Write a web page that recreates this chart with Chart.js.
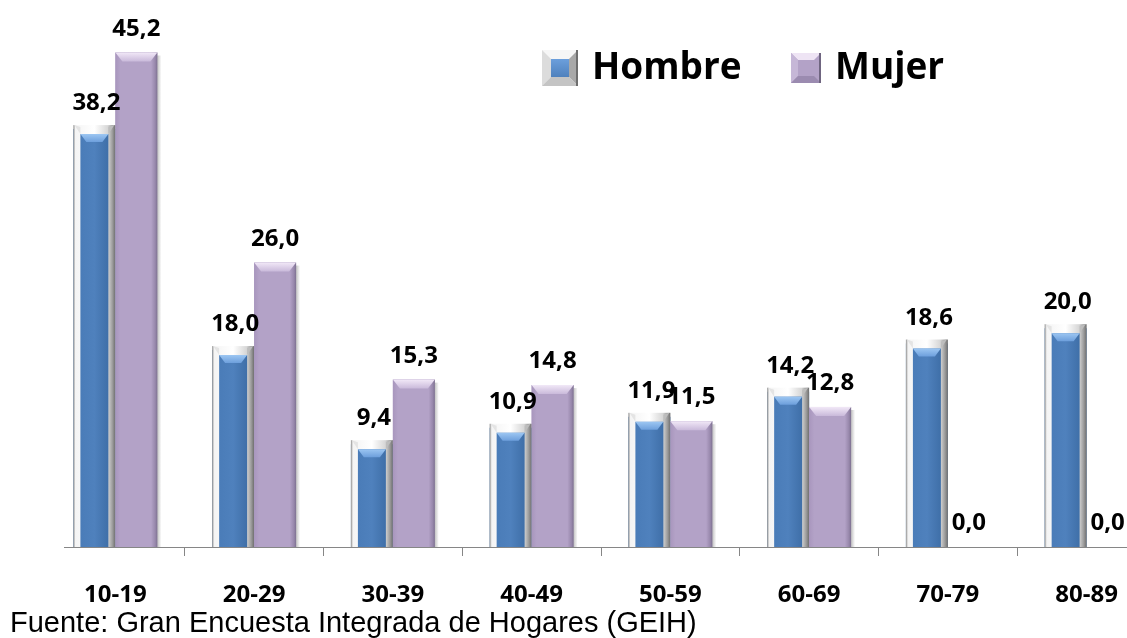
<!DOCTYPE html>
<html>
<head>
<meta charset="utf-8">
<script src="https://cdn.jsdelivr.net/npm/chart.js@4.4.1/dist/chart.umd.min.js"></script>
<style>
html, body { margin: 0; padding: 0; background: #fff; overflow: hidden; }
#wrap { position: relative; width: 1160px; height: 638px; }
</style>
</head>
<body>
<div id="wrap"><canvas id="grafico"></canvas></div>
<script>
var edades = ['10-19', '20-29', '30-39', '40-49', '50-59', '60-69', '70-79', '80-89'];
var hombre = [38.2, 18.0, 9.4, 10.9, 11.9, 14.2, 18.6, 20.0];
var mujer = [45.2, 26.0, 15.3, 14.8, 11.5, 12.8, 0.0, 0.0];
var series = ['Hombre', 'Mujer'];
var fuente = 'Fuente: Gran Encuesta Integrada de Hogares (GEIH)';

var AZUL = '#4F81BD';
var LILA = '#B3A2C7';
var EJE = '#868686';

// marco gris claro con cuadro azul dentro (Hombre)
function pintarHombre(ctx, l, t, r, b) {
    var g = ctx.createLinearGradient(l, 0, r, 0);
    g.addColorStop(0, '#8e8e8e');
    g.addColorStop(0.05, '#f4f4f4');
    g.addColorStop(0.5, '#ffffff');
    g.addColorStop(0.82, '#d6d6d6');
    g.addColorStop(0.93, '#9c9c9c');
    g.addColorStop(1, '#6e6e6e');
    ctx.fillStyle = g;
    ctx.fillRect(l, t, r - l, b - t);
    var il = l + 7, ir = r - 7, it = t + 9;
    ctx.fillStyle = '#e4e4e4';
    ctx.beginPath(); ctx.moveTo(l + 1, t); ctx.lineTo(il, it); ctx.lineTo(il, t + 2); ctx.closePath(); ctx.fill();
    ctx.fillStyle = '#bdbdbd';
    ctx.beginPath(); ctx.moveTo(r - 1, t); ctx.lineTo(ir, it); ctx.lineTo(ir, t + 2); ctx.closePath(); ctx.fill();
    var gi = ctx.createLinearGradient(il, 0, ir, 0);
    gi.addColorStop(0, '#4a7cb8');
    gi.addColorStop(0.5, AZUL);
    gi.addColorStop(1, '#3f6fa8');
    ctx.fillStyle = gi;
    ctx.fillRect(il, it, ir - il, b - it);
    var gt = ctx.createLinearGradient(0, it, 0, it + 8);
    gt.addColorStop(0, '#9cc6f2');
    gt.addColorStop(1, '#6d9fdc');
    ctx.fillStyle = gt;
    ctx.beginPath();
    ctx.moveTo(il, it); ctx.lineTo(ir, it); ctx.lineTo(ir - 6, it + 8); ctx.lineTo(il + 6, it + 8);
    ctx.closePath(); ctx.fill();
}

// barra lila con bisel (Mujer)
function pintarMujer(ctx, l, t, r, b) {
    var g = ctx.createLinearGradient(l, 0, r, 0);
    g.addColorStop(0, '#a896bd');
    g.addColorStop(0.12, LILA);
    g.addColorStop(0.85, LILA);
    g.addColorStop(0.95, '#9787ab');
    g.addColorStop(1, '#7d7190');
    ctx.fillStyle = g;
    ctx.fillRect(l, t, r - l, b - t);
    var h = Math.min(9, (b - t) / 2);
    var gt = ctx.createLinearGradient(0, t, 0, t + h);
    gt.addColorStop(0, '#f1e8f7');
    gt.addColorStop(1, '#c9b9da');
    ctx.fillStyle = gt;
    ctx.beginPath();
    ctx.moveTo(l, t); ctx.lineTo(r, t); ctx.lineTo(r - 7, t + h); ctx.lineTo(l + 7, t + h);
    ctx.closePath(); ctx.fill();
    var gs = ctx.createLinearGradient(r, 0, r + 4, 0);
    gs.addColorStop(0, 'rgba(120,120,120,0.45)');
    gs.addColorStop(1, 'rgba(120,120,120,0)');
    ctx.fillStyle = gs;
    ctx.fillRect(r, t + 3, 4, b - t - 3);
}

// cuadros de la leyenda, bisel en los cuatro lados
function iconoHombre(ctx, l, t, s) {
    var r = l + s, b = t + s, d = 9;
    ctx.fillStyle = '#f6f6f6'; ctx.fillRect(l, t, s, s);
    ctx.fillStyle = '#dcdcdc';
    ctx.beginPath(); ctx.moveTo(l, t); ctx.lineTo(l + d, t + d); ctx.lineTo(l + d, b - d); ctx.lineTo(l, b); ctx.closePath(); ctx.fill();
    ctx.fillStyle = '#a8a8a8';
    ctx.beginPath(); ctx.moveTo(r, t); ctx.lineTo(r - d, t + d); ctx.lineTo(r - d, b - d); ctx.lineTo(r, b); ctx.closePath(); ctx.fill();
    ctx.fillStyle = '#c4c4c4';
    ctx.beginPath(); ctx.moveTo(l, b); ctx.lineTo(l + d, b - d); ctx.lineTo(r - d, b - d); ctx.lineTo(r, b); ctx.closePath(); ctx.fill();
    ctx.fillStyle = '#6e6e6e'; ctx.fillRect(r - 2, t, 2, s);
    var gi = ctx.createLinearGradient(0, t + d, 0, b - d);
    gi.addColorStop(0, '#6c9fdc'); gi.addColorStop(1, AZUL);
    ctx.fillStyle = gi; ctx.fillRect(l + d, t + d, s - 2 * d, s - 2 * d);
}

function iconoMujer(ctx, l, t, s) {
    var r = l + s, b = t + s, d = 7;
    ctx.fillStyle = LILA; ctx.fillRect(l, t, s, s);
    ctx.fillStyle = '#eee4f4';
    ctx.beginPath(); ctx.moveTo(l, t); ctx.lineTo(r, t); ctx.lineTo(r - d, t + d); ctx.lineTo(l + d, t + d); ctx.closePath(); ctx.fill();
    ctx.fillStyle = '#c6b7d7';
    ctx.beginPath(); ctx.moveTo(l, t); ctx.lineTo(l + d, t + d); ctx.lineTo(l + d, b - d); ctx.lineTo(l, b); ctx.closePath(); ctx.fill();
    ctx.fillStyle = '#9b8bb0';
    ctx.beginPath(); ctx.moveTo(l, b); ctx.lineTo(l + d, b - d); ctx.lineTo(r - d, b - d); ctx.lineTo(r, b); ctx.closePath(); ctx.fill();
    ctx.fillStyle = '#6f6580'; ctx.fillRect(r - 2, t, 2, s);
}

var bisel = {
    id: 'bisel',
    beforeDatasetsDraw: function(chart) {
        // linea del eje: empieza un poco a la derecha del borde del area
        var ctx = chart.ctx, a = chart.chartArea;
        ctx.save();
        ctx.strokeStyle = EJE;
        ctx.lineWidth = 1;
        ctx.beginPath();
        ctx.moveTo(a.left + 18, Math.round(a.bottom) + 0.5);
        ctx.lineTo(a.right, Math.round(a.bottom) + 0.5);
        ctx.stroke();
        ctx.restore();
    },
    afterDatasetsDraw: function(chart) {
        var ctx = chart.ctx;
        chart.data.datasets.forEach(function(ds, i) {
            chart.getDatasetMeta(i).data.forEach(function(bar) {
                var l = bar.x - bar.width / 2, r = bar.x + bar.width / 2;
                if (bar.base - bar.y < 1) return;
                ctx.save();
                if (i === 0) pintarHombre(ctx, l, bar.y - 4, r, bar.base);
                else pintarMujer(ctx, l, bar.y, r, bar.base);
                ctx.restore();
            });
        });
        // etiquetas de valor
        ctx.save();
        ctx.font = 'bold 24px "Open Sans"';
        ctx.fillStyle = '#000';
        ctx.textAlign = 'center';
        ctx.textBaseline = 'alphabetic';
        chart.data.datasets.forEach(function(ds, i) {
            chart.getDatasetMeta(i).data.forEach(function(bar, j) {
                var txt = ds.data[j].toFixed(1).replace('.', ',');
                ctx.fillText(txt, bar.x + (i === 0 ? 2 : 0), bar.y - (i === 0 ? 19 : 17));
            });
        });
        ctx.restore();
        // leyenda
        ctx.save();
        iconoHombre(ctx, 542, 50, 36);
        iconoMujer(ctx, 791, 53, 30);
        ctx.font = 'bold 37px "Open Sans"';
        ctx.fillStyle = '#000';
        ctx.textBaseline = 'alphabetic';
        ctx.fillText(series[0], 592, 79);
        ctx.fillText(series[1], 835, 79);
        ctx.restore();
    }
};

var ctx = document.getElementById('grafico').getContext('2d');
new Chart(ctx, {
    type: 'bar',
    data: {
        labels: edades,
        datasets: [{
            label: series[0],
            data: hombre,
            backgroundColor: AZUL,
            borderWidth: 0
        }, {
            label: series[1],
            data: mujer,
            backgroundColor: LILA,
            borderWidth: 0
        }]
    },
    options: {
        responsive: true,
        maintainAspectRatio: false,
        animation: false,
        events: [],
        layout: { padding: { left: 10, right: 4, top: 0, bottom: 0 } },
        datasets: { bar: { categoryPercentage: 0.605, barPercentage: 1.0 } },
        plugins: {
            legend: { display: false },
            tooltip: { enabled: false },
            subtitle: {
                display: true,
                text: fuente,
                position: 'bottom',
                align: 'start',
                color: '#000',
                font: { family: 'Liberation Sans', size: 29, weight: 'normal', lineHeight: 1.0 },
                padding: { top: 1.8, bottom: 0 }
            }
        },
        scales: {
            x: {
                offset: true,
                grid: {
                    offset: true,
                    drawOnChartArea: false,
                    tickLength: 9,
                    color: function(c) { return c.index === 0 ? 'rgba(0,0,0,0)' : EJE; }
                },
                border: { display: false },
                ticks: {
                    color: '#000',
                    font: { family: 'Open Sans', weight: 'bold', size: 24 },
                    padding: 25,
                    maxRotation: 0,
                    autoSkip: false
                },
                afterFit: function(scale) { scale.height = 60.2; }
            },
            y: {
                min: 0,
                max: 50,
                grid: { display: false },
                border: { display: false },
                ticks: { display: false },
                afterFit: function(scale) { scale.width = 36; }
            }
        }
    },
    plugins: [bisel]
});
</script>
</body>
</html>
